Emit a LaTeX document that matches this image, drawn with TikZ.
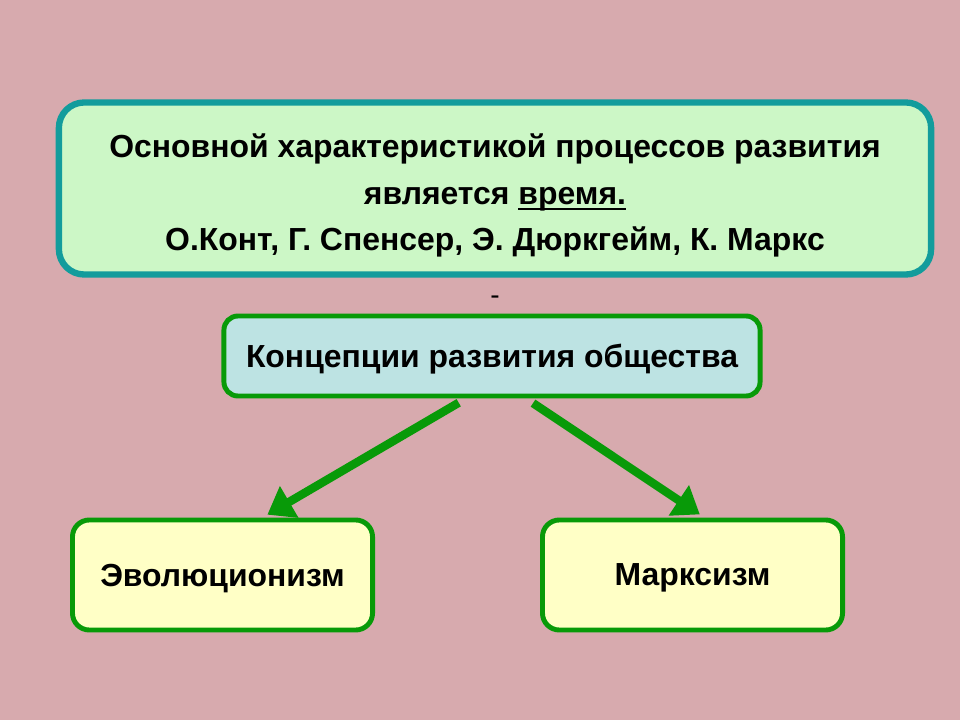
\documentclass[tikz,border=0pt]{standalone}
\usepackage{fontspec}
\setmainfont{Liberation Sans}
\usetikzlibrary{arrows.meta}
\definecolor{slidebg}{HTML}{D7AAAE}
\definecolor{tealline}{HTML}{129C9C}
\definecolor{topfill}{HTML}{CCF7C6}
\definecolor{midfill}{HTML}{BDE3E3}
\definecolor{grline}{HTML}{089A08}
\definecolor{lowfill}{HTML}{FFFFC6}
\newcommand\thickul[1]{\setbox0\hbox{#1}\rlap{\rule[-4.2pt]{\wd0}{1.8pt}}\box0}
\begin{document}
\begin{tikzpicture}[x=0.025cm,y=-0.025cm]
	\tikzstyle{every node}+=[font=\bfseries]
	\tikzstyle{topbox}=[draw=tealline, line width=4.5pt, fill=topfill, rounded corners=18pt, minimum width=21.8cm, minimum height=4.3cm, align=center]
	\tikzstyle{midbox}=[draw=grline, line width=3.5pt, fill=midfill, rounded corners=10pt, minimum width=13.4cm, minimum height=2cm, text depth=0pt]
	\tikzstyle{lowbox}=[draw=grline, line width=3.5pt, fill=lowfill, rounded corners=12pt, minimum width=7.5cm, minimum height=2.75cm, text depth=0pt]
	\tikzstyle{arr}=[draw=grline, line width=6pt, -{Triangle[length=18pt,width=25pt]}]
	\fill [slidebg] (0,0) rectangle (960,720);
	\node [topbox, font=\bfseries\fontsize{22.7}{33}\selectfont] (main) at (495,188.5)
		{\rule{0pt}{27pt}Основной характеристикой процессов развития\\
		 является \thickul{время.}\\
		 О.Конт, Г. Спенсер, Э. Дюркгейм, К. Маркс};
	\node [font=\fontsize{20}{22}\selectfont] (dash) at (495,300) {-};
	\node [midbox, font=\bfseries\fontsize{22.7}{26}\selectfont] (conc) at (492,356) {Концепции развития общества};
	\node [lowbox, font=\bfseries\fontsize{22.7}{26}\selectfont] (evol) at (222.5,575) {Эволюционизм};
	\node [lowbox, font=\bfseries\fontsize{22.7}{26}\selectfont] (marx) at (692.5,575) {Марксизм};
	\draw [arr, shorten <=6pt, shorten >=4pt] ([xshift=-0.65cm]conc.south) -- ([xshift=1.0cm]evol.north);
	\draw [arr, shorten <=6pt, shorten >=4pt] ([xshift=0.85cm]conc.south) -- ([xshift=0.3cm]marx.north);
\end{tikzpicture}
\end{document}
